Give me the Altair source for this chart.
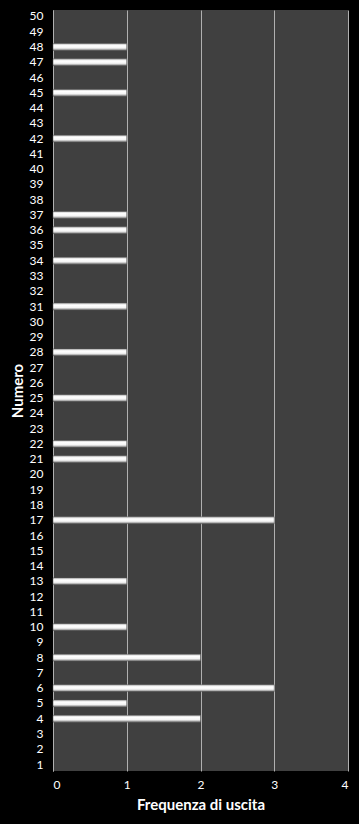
import altair as alt
import pandas as pd

numeri = [4, 5, 6, 8, 10, 13, 17, 21, 22, 25, 28, 31, 34, 36, 37, 42, 45, 47, 48]
frequenze = [2, 1, 3, 2, 1, 1, 3, 1, 1, 1, 1, 1, 1, 1, 1, 1, 1, 1, 1]
tutti_numeri = list(range(50, 0, -1))
x_ticks = [0, 1, 2, 3, 4]

df = pd.DataFrame({"Numero": numeri, "Frequenza": frequenze})

grad = alt.Gradient(
    gradient="linear",
    x1=0, y1=0, x2=0, y2=1,
    stops=[
        alt.GradientStop(offset=0, color="#c8c8c8"),
        alt.GradientStop(offset=0.3, color="#ffffff"),
        alt.GradientStop(offset=0.65, color="#f4f4f4"),
        alt.GradientStop(offset=1, color="#7a7a7a"),
    ],
)

font = "Lato"

chart = (
    alt.Chart(df)
    .mark_bar(color=grad, stroke="#555555", strokeWidth=0.5)
    .encode(
        x=alt.X(
            "Frequenza:Q",
            scale=alt.Scale(domain=[0, 4], nice=False),
            axis=alt.Axis(
                title="Frequenza di uscita",
                values=x_ticks,
                format="d",
                grid=True,
                gridColor="#b0b0b0",
                gridWidth=1,
                domain=False,
                ticks=False,
                labelColor="#ffffff",
                labelFont=font,
                labelFontSize=12,
                labelPadding=8,
                titleColor="#ffffff",
                titleFont=font,
                titleFontSize=15,
                titleFontWeight="bold",
                titlePadding=7,
            ),
        ),
        y=alt.Y(
            "Numero:O",
            scale=alt.Scale(domain=tutti_numeri, paddingInner=0.55, paddingOuter=0.2),
            axis=alt.Axis(
                title="Numero",
                grid=False,
                domain=True,
                domainColor="#b0b0b0",
                ticks=False,
                labelColor="#ffffff",
                labelFont=font,
                labelFontSize=12,
                labelPadding=10,
                titleColor="#ffffff",
                titleFont=font,
                titleFontSize=15,
                titleFontWeight="bold",
                titlePadding=4,
            ),
        ),
    )
    .properties(
        width=295,
        height=761,
        background="#000000",
        autosize=alt.AutoSizeParams(type="none"),
        padding={"left": 53, "top": 10, "right": 11, "bottom": 53},
    )
    .configure_view(fill="#404040", stroke=None)
)

chart.save("out.html", embed_options={"renderer": "svg", "actions": False})
